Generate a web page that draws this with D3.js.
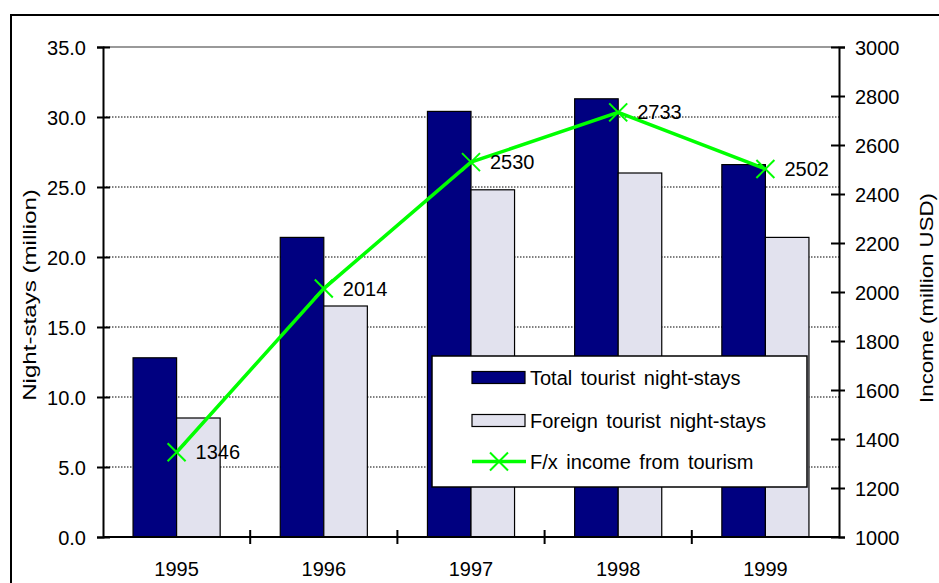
<!DOCTYPE html>
<html>
  <head>
    <meta charset="utf-8">
    <script src="https://d3js.org/d3.v7.min.js"></script>
    <style>
      body { margin: 0; background: #fff; }
      text { font-family: "Liberation Sans", Arial, sans-serif; fill: #000; }
    </style>
  </head>
  <body>
    <div id="vis"></div>
    <script>

      var years = ["1995", "1996", "1997", "1998", "1999"];
      var totalStays = [12.8, 21.4, 30.4, 31.3, 26.6];
      var foreignStays = [8.5, 16.5, 24.8, 26.0, 21.4];
      var income = [1346, 2014, 2530, 2733, 2502];
      var seriesNames = ["Total tourist night-stays", "Foreign tourist night-stays", "F/x income from tourism"];
      var leftTicks = [0, 5, 10, 15, 20, 25, 30, 35];
      var rightTicks = [1000, 1200, 1400, 1600, 1800, 2000, 2200, 2400, 2600, 2800, 3000];

      var width = 939, height = 583;
      var pLeft = 103, pRight = 839, pTop = 47, pBottom = 537;
      var fs = 20;

      var svg = d3.select("#vis").append("svg")
                  .attr("width", width)
                  .attr("height", height);

      // frame around the whole chart (cut by the picture on right and bottom)
      svg.append("rect")
         .attr("x", 11).attr("y", 15)
         .attr("width", 1000).attr("height", 1000)
         .attr("fill", "none").attr("stroke", "#000").attr("stroke-width", 2);

      var x0 = d3.scaleBand().domain(years).range([pLeft, pRight]);
      var x1 = d3.scaleBand().domain(["total", "foreign"])
                 .range([0, x0.bandwidth()]).paddingOuter(0.69);
      var yL = d3.scaleLinear().domain([0, 35]).range([pBottom, pTop]);
      var yR = d3.scaleLinear().domain([1000, 3000]).range([pBottom, pTop]);

      // grid
      svg.append("g").selectAll("line")
         .data(leftTicks.filter(function(d){ return d > 0 && d < 35; }))
         .enter().append("line")
         .attr("x1", pLeft).attr("x2", pRight)
         .attr("y1", function(d){ return yL(d); })
         .attr("y2", function(d){ return yL(d); })
         .attr("stroke", "#000").attr("stroke-width", 1)
         .attr("stroke-dasharray", "1.5,1.5");
      svg.append("line")
         .attr("x1", pLeft).attr("x2", pRight)
         .attr("y1", yL(35)).attr("y2", yL(35))
         .attr("stroke", "#999").attr("stroke-width", 2);

      // bars
      var groups = svg.append("g").selectAll("g")
                      .data(years).enter().append("g")
                      .attr("transform", function(d){ return "translate(" + x0(d) + ",0)"; });
      groups.append("rect")
            .attr("x", x1("total")).attr("width", x1.bandwidth())
            .attr("y", function(d, i){ return yL(totalStays[i]); })
            .attr("height", function(d, i){ return pBottom - yL(totalStays[i]); })
            .attr("fill", "#000080").attr("stroke", "#000").attr("stroke-width", 1.2);
      groups.append("rect")
            .attr("x", x1("foreign")).attr("width", x1.bandwidth())
            .attr("y", function(d, i){ return yL(foreignStays[i]); })
            .attr("height", function(d, i){ return pBottom - yL(foreignStays[i]); })
            .attr("fill", "#e2e2ee").attr("stroke", "#000").attr("stroke-width", 1.2);

      // axes
      var yAxisL = d3.axisLeft(yL).tickValues(leftTicks).tickSize(6)
                     .tickFormat(d3.format(".1f"));
      var gL = svg.append("g").attr("transform", "translate(" + pLeft + ",0)").call(yAxisL);
      var yAxisR = d3.axisRight(yR).tickValues(rightTicks).tickSize(6)
                     .tickFormat(d3.format("d"));
      var gR = svg.append("g").attr("transform", "translate(" + pRight + ",0)").call(yAxisR);
      var xAxis = d3.axisBottom(x0).tickSize(0).tickPadding(0);
      var gX = svg.append("g").attr("transform", "translate(0," + pBottom + ")").call(xAxis);

      [gL, gR, gX].forEach(function(g){
        g.select(".domain").attr("stroke", "#000").attr("stroke-width", 2);
        g.selectAll("text").style("font-size", fs + "px")
         .style("font-family", '"Liberation Sans", Arial, sans-serif').attr("fill", "#000");
      });
      gX.select(".domain").attr("d", "M" + pLeft + ",0H" + pRight);
      gL.selectAll(".tick line").attr("x1", -6).attr("x2", 7).attr("stroke-width", 2);
      gR.selectAll(".tick line").attr("x1", -8).attr("x2", 6).attr("stroke-width", 2);
      gL.selectAll(".tick text").attr("x", -17).attr("dy", "0.36em");
      gR.selectAll(".tick text").attr("x", 16).attr("dy", "0.36em");
      gX.selectAll(".tick text").attr("y", 39).attr("dy", 0);

      // category boundary ticks
      svg.append("g").selectAll("line")
         .data(years.slice(1)).enter().append("line")
         .attr("x1", function(d){ return x0(d); })
         .attr("x2", function(d){ return x0(d); })
         .attr("y1", pBottom - 7).attr("y2", pBottom + 7)
         .attr("stroke", "#000").attr("stroke-width", 2);

      // income line
      var cx = function(d, i){ return x0(years[i]) + x0.bandwidth() / 2; };
      var line = d3.line()
                   .x(function(d, i){ return cx(d, i); })
                   .y(function(d){ return yR(d); });
      svg.append("path").datum(income)
         .attr("d", line).attr("fill", "none")
         .attr("stroke", "#00ff00").attr("stroke-width", 3.5);

      var cross = function(sel){
        sel.append("line").attr("x1", -9).attr("y1", -9).attr("x2", 9).attr("y2", 9);
        sel.append("line").attr("x1", -9).attr("y1", 9).attr("x2", 9).attr("y2", -9);
        sel.selectAll("line").attr("stroke", "#00ff00").attr("stroke-width", 2);
      };
      var marks = svg.append("g").selectAll("g")
                     .data(income).enter().append("g")
                     .attr("transform", function(d, i){ return "translate(" + cx(d, i) + "," + yR(d) + ")"; });
      marks.call(cross);
      marks.append("text")
           .attr("x", 19).attr("y", 7)
           .style("font-size", fs + "px")
           .text(function(d){ return d; });

      // axis titles (the original font is drawn a bit wide)
      svg.append("text")
         .attr("transform", "translate(36,295) rotate(-90) scale(1.27,1)")
         .attr("text-anchor", "middle").style("font-size", "19px")
         .text("Night-stays (million)");
      svg.append("text")
         .attr("transform", "translate(933,298) rotate(-90) scale(1.17,1)")
         .attr("text-anchor", "middle").style("font-size", "19px")
         .text("Income (million USD)");

      // legend
      var lg = svg.append("g").attr("transform", "translate(432,356)");
      lg.append("rect").attr("width", 375).attr("height", 131)
        .attr("fill", "#fff").attr("stroke", "#000").attr("stroke-width", 1.5);
      var rowY = [21.5, 64.5, 105.5];
      lg.append("rect").attr("x", 40).attr("y", rowY[0] - 6).attr("width", 53).attr("height", 12)
        .attr("fill", "#000080").attr("stroke", "#000").attr("stroke-width", 1.2);
      lg.append("rect").attr("x", 40).attr("y", rowY[1] - 6).attr("width", 53).attr("height", 12)
        .attr("fill", "#e2e2ee").attr("stroke", "#000").attr("stroke-width", 1.2);
      lg.append("line").attr("x1", 40).attr("x2", 94).attr("y1", rowY[2]).attr("y2", rowY[2])
        .attr("stroke", "#00ff00").attr("stroke-width", 3.5);
      lg.append("g").attr("transform", "translate(67," + rowY[2] + ")").call(cross);
      lg.selectAll("text.lab").data(seriesNames).enter().append("text")
        .attr("class", "lab")
        .attr("x", 98).attr("y", function(d, i){ return rowY[i] + 7; })
        .style("font-size", fs + "px").style("word-spacing", "3px")
        .text(function(d){ return d; });

    </script>
  </body>
</html>
